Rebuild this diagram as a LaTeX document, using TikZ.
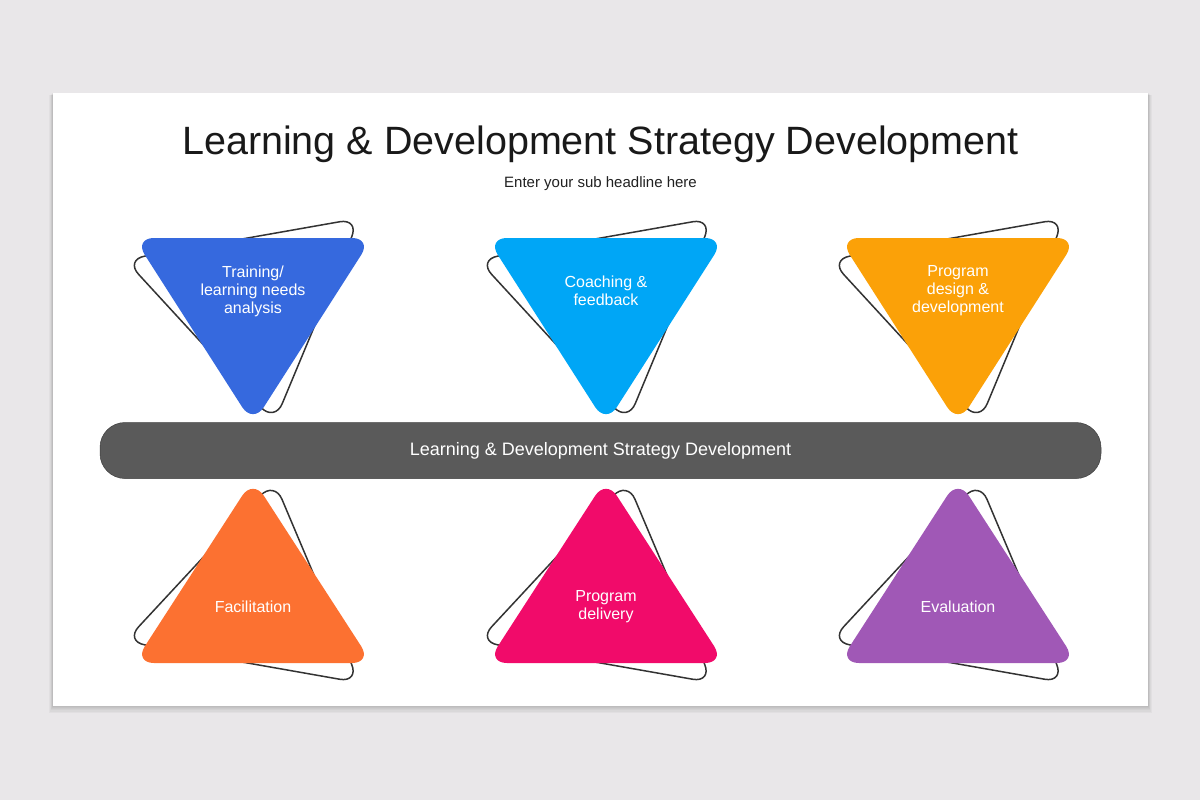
\documentclass[tikz,border=0pt]{standalone}
\usepackage{fontspec}
\setmainfont{Liberation Sans}
\definecolor{pagebg}{HTML}{E9E7E9}
\definecolor{rimcol}{HTML}{333333}
\definecolor{bandcol}{HTML}{5A5A5A}
\definecolor{cblue}{HTML}{3669DE}
\definecolor{csky}{HTML}{00A6F6}
\definecolor{camber}{HTML}{FBA108}
\definecolor{corange}{HTML}{FC7131}
\definecolor{cpink}{HTML}{F10B6A}
\definecolor{cpurple}{HTML}{A058B6}
\begin{document}
\begin{tikzpicture}[x=1pt, y=-1pt,
                        rim/.style={draw=rimcol, line width=1.5pt, rounded corners=20pt},
                        tri/.style={rounded corners=20pt},
                        lbl/.style={text=white, align=center, font=\fontsize{16}{18}\selectfont}]
                        \fill[pagebg] (0, 0) rectangle (1200, 800);
                        \useasboundingbox (0, 0) rectangle (1200, 800);
                        \foreach \s in {1, ..., 6}
                                \fill[black, opacity=0.03] (53-\s*0.6, 93+\s*0.4) rectangle (1148+\s*0.6, 706+\s*1.1);
                        \fill[white] (53, 93) rectangle (1148, 706);
                        \node[anchor=base, text=black!90, font=\fontsize{39.5}{44}\selectfont] (title) at (600.5, 154){Learning \& Development Strategy Development};
                        \node[anchor=base, text=black!87, font=\fontsize{15}{18}\selectfont] (sub) at (600.5, 187){Enter your sub headline here};
                        \foreach \cx/\col/\txt/\nm in {253/cblue/{Training/\\learning needs\\analysis}/needs, 606/csky/{Coaching \&\\feedback}/coach, 958/camber/{Program\\design \&\\development}/design}{
                                \draw[rim, rotate around={10:(\cx, 300)}] (\cx-119, 238) -- (\cx+119, 238) -- (\cx, 424) -- cycle;
                                \fill[\col, tri] (\cx-119, 238) -- (\cx+119, 238) -- (\cx, 424) -- cycle;
                                \node[lbl] (\nm) at (\cx, 291){\txt};
                        }
                        \foreach \cx/\col/\txt/\nm in {253/corange/{Facilitation}/facil, 606/cpink/{Program\\delivery}/deliv, 958/cpurple/{Evaluation}/evalu}{
                                \draw[rim, rotate around={-10:(\cx, 601)}] (\cx-119, 663) -- (\cx+119, 663) -- (\cx, 479) -- cycle;
                                \fill[\col, tri] (\cx-119, 663) -- (\cx+119, 663) -- (\cx, 479) -- cycle;
                                \node[lbl] (\nm) at (\cx, 607){\txt};
                        }
                        \node[fill=bandcol, draw=black!75, line width=0.5pt, rounded corners=25pt, minimum width=1001pt, minimum height=56pt, text=white, font=\fontsize{18}{20}\selectfont] (band) at (600.5, 450.5){Learning \& Development Strategy Development};
                \end{tikzpicture}
\end{document}
